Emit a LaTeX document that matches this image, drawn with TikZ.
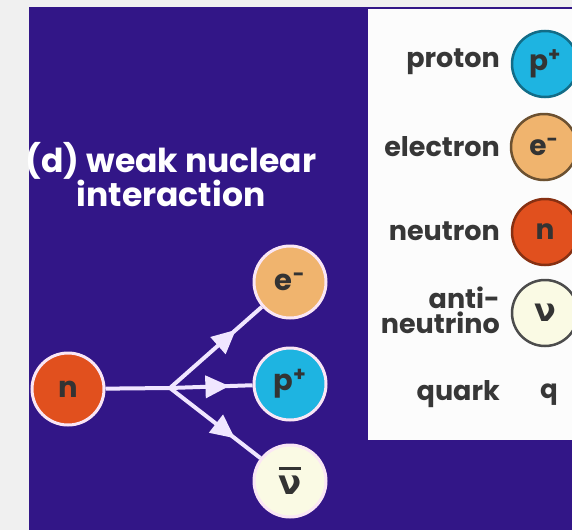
\documentclass[tikz,border=0pt]{standalone}
\usepackage{fontspec}
\setmainfont{Poppins}
\newfontfamily\nufont{DejaVu Sans}
\usetikzlibrary{arrows.meta,decorations.markings}

\definecolor{bgpurple}{RGB}{50,22,135}
\definecolor{margingray}{RGB}{240,240,240}
\definecolor{keytext}{RGB}{55,55,55}
\definecolor{protonblue}{RGB}{30,180,225}
\definecolor{electronorange}{RGB}{240,180,110}
\definecolor{neutronred}{RGB}{225,80,30}
\definecolor{nucream}{RGB}{250,250,228}
\definecolor{rimpink}{RGB}{250,230,245}
\definecolor{flowwhite}{RGB}{240,230,255}

% antineutrino sign
\newcommand{\antinu}{\ooalign{\hidewidth\raisebox{0.74em}{\rule{0.66em}{0.08em}}\hidewidth\cr ν\cr}}

\tikzset{
  particle/.style={circle, minimum size=72pt, inner sep=0pt, line width=3pt, draw=rimpink,
    text=black!80, font=\bfseries\fontsize{29}{29}\selectfont},
  keyball/.style={circle, minimum size=66pt, inner sep=0pt, line width=2.5pt,
    text=black!80, font=\bfseries\fontsize{28}{28}\selectfont},
  keylabel/.style={anchor=east, text=keytext, align=right, inner sep=0pt,
    font=\bfseries\fontsize{27}{25}\selectfont},
  flow/.style={draw=flowwhite, line width=4pt},
  midarrow/.style={postaction={decorate}, decoration={markings,
    mark=at position 0.72 with {\arrow[flowwhite]{Triangle[length=24pt,width=22pt]}}}},
}

\begin{document}
\begin{tikzpicture}[x=1pt,y=-1pt]
\useasboundingbox (0,0) rectangle (572,530);
% background
\fill[margingray] (0,0) rectangle (572,530);
\fill[bgpurple] (29,7) rectangle (572,530);

% title
\node[text=white, align=center, font=\bfseries\fontsize{33}{34}\selectfont] (title) at (171,175)
  {(d) weak nuclear\\interaction};

% decay
\node[particle, fill=neutronred] (n) at (68,389) {n};
\node[particle, fill=electronorange] (e) at (290,282) {e\textsuperscript{-}};
\node[particle, fill=protonblue] (p) at (290,384) {p\textsuperscript{+}};
\node[particle, fill=nucream, font=\nufont\bfseries\fontsize{34}{34}\selectfont] (nu) at (290,481) {\antinu};
\coordinate (fork) at (170,388);
\draw[flow] (n) -- (fork);
\draw[flow,midarrow] (fork) -- (e);
\draw[flow,midarrow] (fork) -- (p);
\draw[flow,midarrow] (fork) -- (nu);

% key
\fill[white!98!gray] (368,9) rectangle (572,440);
\node[keyball, fill=protonblue, draw=protonblue!60!black] (kp) at (545,64) {p\textsuperscript{+}};
\node[keyball, fill=electronorange, draw=electronorange!45!black] (ke) at (544,147) {e\textsuperscript{-}};
\node[keyball, fill=neutronred, draw=neutronred!60!black] (kn) at (545,232) {n};
\node[keyball, fill=nucream, draw=black!70, font=\nufont\bfseries\fontsize{32}{32}\selectfont] (knu) at (545,313) {ν};
\node[keytext, font=\bfseries\fontsize{26}{26}\selectfont] (kq) at (549,395) {q};
\node[keylabel] at (500,62) {proton};
\node[keylabel] at (500,147) {electron};
\node[keylabel] at (500,231) {neutron};
\node[keylabel] at (500,310) {anti-\\neutrino};
\node[keylabel] at (500,394) {quark};
\end{tikzpicture}
\end{document}
